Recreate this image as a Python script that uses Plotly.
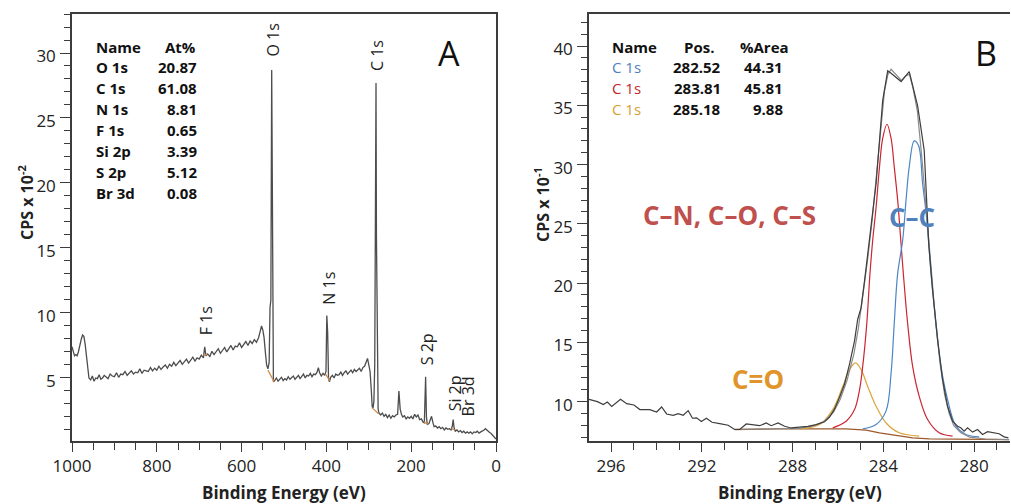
import plotly.graph_objects as go

# ---------------- Panel A : survey spectrum ----------------
survey_ev = [1000, 997, 994, 991, 988, 985, 982, 978, 975, 972,
             969, 966, 963, 960, 956, 952, 948, 944, 940, 936,
             932, 928, 924, 920, 915, 910, 905, 900, 895, 890,
             885, 880, 875, 870, 865, 860, 855, 850, 845, 840,
             835, 830, 825, 820, 815, 810, 805, 800, 795, 790,
             785, 780, 775, 770, 765, 760, 755, 750, 745, 740,
             735, 730, 725, 720, 715, 710, 705, 700, 695, 690,
             687, 684, 680, 675, 670, 665, 660, 655, 650, 645,
             640, 635, 630, 625, 620, 615, 610, 605, 600, 595,
             590, 585, 580, 575, 570, 565, 560, 556, 553, 550,
             547, 544, 541, 538, 535, 533, 531, 529, 527, 525,
             522, 518, 514, 510, 506, 502, 498, 494, 490, 486,
             482, 478, 474, 470, 466, 462, 458, 454, 450, 446,
             442, 438, 434, 430, 426, 422, 419, 416, 412, 408,
             404, 401, 399, 397, 395, 393, 390, 386, 382, 378,
             374, 370, 366, 362, 358, 354, 350, 346, 342, 338,
             334, 330, 326, 322, 318, 314, 310, 306, 303, 300,
             297, 294, 292, 290, 288, 286, 284, 283, 282, 280,
             278, 276, 272, 268, 264, 260, 256, 252, 248, 244,
             240, 236, 232, 229, 226, 223, 220, 216, 212, 208,
             204, 200, 196, 192, 188, 184, 180, 176, 172, 169,
             166, 164, 162, 158, 155, 152, 149, 146, 142, 138,
             134, 130, 126, 122, 118, 114, 110, 106, 103, 101,
             99, 96, 92, 88, 84, 80, 76, 72, 68, 64,
             60, 56, 52, 48, 44, 40, 36, 32, 28, 25,
             22, 18, 15, 12, 8, 5, 2, 0]
survey_cps = [7.4, 7.0, 6.7, 6.8, 6.7, 7.0, 7.5, 8.0, 8.3, 8.2,
              7.6, 6.6, 5.5, 5.0, 4.85, 5.15, 4.75, 5.0, 4.95, 5.25,
              4.9, 5.0, 5.2, 5.05, 4.95, 5.3, 5.15, 5.1, 5.4, 5.05,
              5.3, 5.25, 5.5, 5.2, 5.35, 5.55, 5.3, 5.45, 5.4, 5.7,
              5.35, 5.6, 5.55, 5.5, 5.8, 5.55, 5.75, 5.6, 5.9, 5.65,
              5.85, 6.0, 5.75, 6.05, 5.9, 6.2, 5.95, 6.15, 6.35, 6.05,
              6.3, 6.45, 6.15, 6.4, 6.6, 6.3, 6.55, 6.45, 6.75, 6.55,
              7.4, 6.7, 6.85, 6.65, 7.05, 6.8, 7.0, 7.25, 6.9, 7.15,
              7.35, 7.0, 7.3, 7.5, 7.15, 7.45, 7.4, 7.7, 7.35, 7.6,
              7.8, 7.5, 7.85, 7.65, 7.95, 7.75, 8.1, 8.6, 9.0, 8.7,
              8.1, 7.0, 6.0, 5.7, 6.2, 10.4, 11.0, 28.7, 12.0, 4.7,
              4.8, 5.0, 4.75, 4.9, 5.05, 4.8, 4.95, 4.85, 5.1, 4.9,
              5.0, 5.15, 4.9, 5.05, 5.2, 4.95, 5.1, 5.3, 5.0, 5.2,
              5.15, 5.35, 5.1, 5.3, 5.25, 5.45, 5.8, 5.4, 5.15, 5.35,
              5.2, 5.5, 9.8, 8.5, 5.0, 4.7, 5.05, 5.2, 5.0, 5.3,
              5.2, 5.25, 5.45, 5.2, 5.4, 5.55, 5.3, 5.5, 5.6, 5.4,
              5.65, 5.5, 5.6, 5.75, 5.5, 5.8, 5.9, 6.3, 6.5, 6.0,
              5.5, 4.0, 2.8, 2.7, 3.2, 6.0, 16.0, 27.7, 16.0, 6.0,
              2.6, 2.3, 2.15, 2.3, 2.05, 2.2, 1.95, 2.15, 1.9, 2.1,
              2.0, 2.15, 2.2, 4.0, 2.6, 2.2, 2.0, 2.1, 1.85, 2.0,
              1.9, 2.05, 1.85, 2.2, 2.0, 2.15, 1.8, 1.85, 1.6, 1.55,
              5.1, 2.0, 1.4, 1.5, 1.8, 2.05, 1.6, 1.25, 1.3, 1.15,
              1.25, 1.1, 1.2, 1.0, 1.15, 1.05, 1.1, 1.0, 1.3, 1.8,
              1.2, 0.9, 1.0, 0.85, 0.95, 0.8, 0.9, 0.75, 0.85, 0.75,
              0.85, 0.7, 0.85, 0.8, 0.9, 0.75, 0.85, 0.9, 1.0, 1.1,
              1.0, 0.85, 0.8, 0.75, 0.6, 0.5, 0.4, 0.3]

# short fitted-background segments under the survey peaks (None separates segments)
survey_bg_ev = [690, 681, None, 538, 523, None, 402, 391, None, 292, 277, None, 170, 160, None, 105, 97]
survey_bg_cps = [6.75, 6.8, None, 5.6, 4.7, None, 5.3, 4.75, None, 2.7, 2.25, None, 1.6, 1.45, None, 1.1, 1.0]

peak_names = ["O 1s", "C 1s", "N 1s", "F 1s", "S 2p", "Si 2p", "Br 3d"]
peak_label_ev = [527, 282, 393, 685, 163, 98, 67]
peak_label_cps = [31.0, 29.8, 11.9, 9.4, 7.2, 3.85, 3.55]

quant_names = ["O 1s", "C 1s", "N 1s", "F 1s", "Si 2p", "S 2p", "Br 3d"]
quant_at = ["20.87", "61.08", "8.81", "0.65", "3.39", "5.12", "0.08"]

# ---------------- Panel B : C 1s high resolution ----------------
raw_ev = [296.97, 296.6, 296.34, 296.16, 295.97, 295.58, 295.31, 294.99, 294.73, 294.29, 293.99, 293.77, 293.55,
          293.26, 293.04, 292.82, 292.6, 292.41, 292.23, 292.02, 291.8, 291.55, 291.21, 290.84, 290.55, 290.33,
          290.04, 289.6, 289.45, 289.16, 288.94, 288.64, 288.35, 288.06, 287.69, 287.33, 286.96, 286.59, 286.37,
          286.15, 285.93, 285.71, 285.49, 285.27, 285.13, 284.98, 284.83, 284.69, 284.62, 284.32, 284.03, 283.81,
          283.66, 283.22, 282.86, 282.49, 282.2, 282.0, 281.83, 281.61, 281.39, 281.17, 280.95, 280.73, 280.59,
          280.44, 280.29, 280.07, 279.85, 279.63, 279.41, 279.19, 278.9, 278.68, 278.49]
raw_cps = [10.2, 10.0, 9.75, 9.97, 9.6, 10.2, 9.83, 9.72, 9.33, 9.33, 9.13, 9.55, 8.96,
           8.85, 8.99, 8.85, 9.24, 8.6, 8.63, 8.32, 8.6, 8.26, 8.15, 8.01, 7.65, 7.65,
           8.12, 8.04, 7.97, 8.2, 7.97, 8.2, 7.92, 7.78, 7.83, 7.92, 8.06, 8.3, 8.69,
           9.39, 10.37, 11.49, 13.17, 15.13, 16.95, 17.93, 20.17, 22.41, 23.3, 28.4, 35.4, 37.9,
           37.7, 37.0, 37.84, 34.96, 31.2, 23.3, 19.4, 15.2, 11.85, 9.61, 8.35, 7.93, 7.79,
           7.51, 7.79, 7.43, 7.65, 7.23, 7.46, 7.37, 7.29, 7.03, 6.95]

env_ev = [290.55, 288.5, 287.7, 287.1, 286.6, 286.2, 285.9, 285.6, 285.3, 285.1, 284.9, 284.7, 284.5, 284.3,
          284.1, 283.95, 283.8, 283.66, 283.4, 283.2, 283.0, 282.85, 282.7, 282.5, 282.3, 282.1, 281.9, 281.7,
          281.5, 281.3, 281.1, 280.9, 280.6, 280.2, 279.5, 278.46]
env_cps = [7.65, 7.7, 7.75, 7.95, 8.35, 9.1, 10.2, 11.8, 14.0, 16.2, 18.9, 21.9, 25.2, 29.0,
           33.0, 36.2, 37.6, 38.04, 37.5, 37.1, 37.5, 37.6, 36.5, 34.5, 30.5, 25.8, 21.0, 16.8,
           13.2, 10.6, 9.0, 8.0, 7.4, 7.0, 6.85, 6.8]

red_ev = [286.23, 285.64, 285.27, 285.05, 284.91, 284.73, 284.59, 284.47, 284.32, 284.17, 284.03, 283.84,
          283.66, 283.52, 283.37, 283.22, 283.12, 282.93, 282.71, 282.42, 282.05, 281.54, 280.95]
red_cps = [7.79, 8.35, 9.33, 11.0, 12.97, 16.6, 20.8, 23.6, 26.4, 29.8, 32.2, 33.4,
           32.2, 29.8, 27.0, 23.3, 20.8, 16.6, 12.97, 10.45, 8.49, 7.37, 7.09]

blue_ev = [284.91, 284.32, 283.88, 283.66, 283.52, 283.37, 283.15, 283.0, 282.86, 282.64, 282.45, 282.27,
           282.1, 282.0, 281.9, 281.68, 281.46, 281.17, 280.8, 280.37, 279.78]
blue_cps = [7.7, 8.07, 9.22, 12.4, 16.6, 20.8, 23.6, 27.0, 29.8, 32.0, 31.6, 28.4,
            25.6, 23.3, 20.8, 16.6, 12.97, 10.17, 7.93, 7.23, 7.03]

gold_ev = [287.69, 286.81, 286.23, 285.79, 285.49, 285.23, 284.98, 284.69, 284.32, 283.88, 283.3, 282.42]
gold_cps = [7.7, 8.07, 9.33, 11.28, 12.7, 13.27, 12.7, 11.28, 9.61, 8.2, 7.37, 7.09]

bg_ev = [290.55, 288.57, 285.64, 284.76, 284.17, 283.44, 282.71, 281.98, 278.46]
bg_cps = [7.65, 7.7, 7.7, 7.59, 7.37, 7.15, 6.95, 6.86, 6.8]

comp_names = ["C 1s", "C 1s", "C 1s"]
comp_pos = ["282.52", "283.81", "285.18"]
comp_area = ["44.31", "45.81", "9.88"]

# ---------------- styling ----------------
W, H = 1011, 504
FONT = "Open Sans"
AX = "#3c3c3c"
LINE = "#4d4d4d"
BLUE, RED, GOLD = "#4a86c6", "#cc2531", "#d9a53c"
BLUE_T, RED_T, GOLD_T = "#4f81bd", "#c0272d", "#d6a032"


def fx(p):
    return p / W


def fy(p):
    return 1 - p / H


fig = go.Figure()

fig.add_trace(go.Scatter(x=survey_ev, y=survey_cps, mode="lines", line=dict(color=LINE, width=1.3),
                         xaxis="x", yaxis="y", showlegend=False))
fig.add_trace(go.Scatter(x=survey_bg_ev, y=survey_bg_cps, mode="lines", line=dict(color="#d08848", width=1.2),
                         xaxis="x", yaxis="y", showlegend=False, connectgaps=False))

fig.add_trace(go.Scatter(x=bg_ev, y=bg_cps, mode="lines", line=dict(color="#9c5a2c", width=1.3),
                         xaxis="x2", yaxis="y2", showlegend=False))
fig.add_trace(go.Scatter(x=gold_ev, y=gold_cps, mode="lines", line=dict(color=GOLD, width=1.2, shape="spline"),
                         xaxis="x2", yaxis="y2", showlegend=False))
fig.add_trace(go.Scatter(x=red_ev, y=red_cps, mode="lines", line=dict(color=RED, width=1.2, shape="spline"),
                         xaxis="x2", yaxis="y2", showlegend=False))
fig.add_trace(go.Scatter(x=blue_ev, y=blue_cps, mode="lines", line=dict(color=BLUE, width=1.2, shape="spline"),
                         xaxis="x2", yaxis="y2", showlegend=False))
fig.add_trace(go.Scatter(x=env_ev, y=env_cps, mode="lines", line=dict(color="#8a8a8a", width=1.2),
                         xaxis="x2", yaxis="y2", showlegend=False))
fig.add_trace(go.Scatter(x=raw_ev, y=raw_cps, mode="lines", line=dict(color="#3e3e3e", width=1.2),
                         xaxis="x2", yaxis="y2", showlegend=False))

tickfont = dict(family=FONT, size=17, color="#222222")
common = dict(showgrid=False, zeroline=False, showline=True, linecolor=AX, linewidth=1.5, automargin=False,
              ticks="outside", tickcolor=AX, tickwidth=1.2, tickfont=tickfont)

fig.update_layout(
    width=W, height=H, margin=dict(l=0, r=0, t=0, b=0, autoexpand=False),
    paper_bgcolor="white", plot_bgcolor="white",
    xaxis=dict(domain=[fx(72), fx(496)], range=[1000, 0], anchor="y", dtick=200, tick0=0, ticklen=9,
               mirror=True, minor=dict(dtick=50, ticklen=7, ticks="outside", tickcolor=AX), **common),
    yaxis=dict(domain=[fy(441), fy(14)], range=[0.15, 33.0], anchor="x", dtick=5, tick0=0, ticklen=10,
               mirror=True, ticklabelstandoff=1, ticklabelshift=3,
               minor=dict(dtick=1, ticklen=6, ticks="outside", tickcolor=AX), **common),
    xaxis2=dict(domain=[fx(589), fx(1010)], range=[296.97, 278.42], anchor="y2", dtick=4, tick0=0, ticklen=9,
                mirror=True, minor=dict(dtick=1, ticklen=7, ticks="outside", tickcolor=AX), **common),
    yaxis2=dict(domain=[fy(441), fy(14)], range=[6.68, 42.7], anchor="x2", dtick=5, tick0=0, ticklen=10,
                ticklabelstandoff=1, ticklabelshift=3,
                minor=dict(dtick=1, ticklen=6, ticks="outside", tickcolor=AX), **common),
)

ann = []
# peak labels in survey
for name, xe, yc in zip(peak_names, peak_label_ev, peak_label_cps):
    ann.append(dict(x=xe, y=yc, xref="x", yref="y", text=name, textangle=-90, showarrow=False,
                    font=dict(family=FONT, size=16, color="#222222"), xanchor="center", yanchor="middle"))

# survey quant table
row0, pitch = 46.5, 20.9
ann.append(dict(x=fx(94), y=fy(row0), xref="paper", yref="paper", text="<b>Name</b>", showarrow=False,
                xanchor="left", yanchor="middle", font=dict(family=FONT, size=15, color="#111111")))
ann.append(dict(x=fx(163), y=fy(row0), xref="paper", yref="paper", text="<b>At%</b>", showarrow=False,
                xanchor="left", yanchor="middle", font=dict(family=FONT, size=15, color="#111111")))
for i, (n, v) in enumerate(zip(quant_names, quant_at)):
    yy = fy(row0 + pitch * (i + 1))
    ann.append(dict(x=fx(94), y=yy, xref="paper", yref="paper", text="<b>%s</b>" % n, showarrow=False,
                    xanchor="left", yanchor="middle", font=dict(family=FONT, size=15, color="#111111")))
    ann.append(dict(x=fx(199), y=yy, xref="paper", yref="paper", text="<b>%s</b>" % v, showarrow=False,
                    xanchor="right", yanchor="middle", font=dict(family=FONT, size=15, color="#111111")))

# component table
ann.append(dict(x=fx(610), y=fy(row0), xref="paper", yref="paper", text="<b>Name</b>", showarrow=False,
                xanchor="left", yanchor="middle", font=dict(family=FONT, size=15, color="#111111")))
ann.append(dict(x=fx(699), y=fy(row0), xref="paper", yref="paper", text="<b>Pos.</b>", showarrow=False,
                xanchor="center", yanchor="middle", font=dict(family=FONT, size=15, color="#111111")))
ann.append(dict(x=fx(738), y=fy(row0), xref="paper", yref="paper", text="<b>%Area</b>", showarrow=False,
                xanchor="left", yanchor="middle", font=dict(family=FONT, size=15, color="#111111")))
for i, (n, p, a, c) in enumerate(zip(comp_names, comp_pos, comp_area, [BLUE_T, RED_T, GOLD_T])):
    yy = fy(row0 + pitch * (i + 1))
    ann.append(dict(x=fx(610), y=yy, xref="paper", yref="paper", text=n, showarrow=False,
                    xanchor="left", yanchor="middle", font=dict(family=FONT, size=15, color=c)))
    ann.append(dict(x=fx(723), y=yy, xref="paper", yref="paper", text="<b>%s</b>" % p, showarrow=False,
                    xanchor="right", yanchor="middle", font=dict(family=FONT, size=15, color="#111111")))
    ann.append(dict(x=fx(785), y=yy, xref="paper", yref="paper", text="<b>%s</b>" % a, showarrow=False,
                    xanchor="right", yanchor="middle", font=dict(family=FONT, size=15, color="#111111")))

# bond labels
ann.append(dict(x=fx(729), y=fy(215), xref="paper", yref="paper", text="<b>C\u2013N, C\u2013O, C\u2013S</b>",
                showarrow=False, xanchor="center", yanchor="middle", font=dict(family=FONT, size=26, color="#c0504d")))
ann.append(dict(x=fx(912), y=fy(217), xref="paper", yref="paper", text="<b>C\u2013C</b>",
                showarrow=False, xanchor="center", yanchor="middle", font=dict(family=FONT, size=26, color="#4f81bd")))
ann.append(dict(x=fx(758), y=fy(379), xref="paper", yref="paper", text="<b>C=O</b>",
                showarrow=False, xanchor="center", yanchor="middle", font=dict(family=FONT, size=26, color="#e0952c")))

# panel letters
ann.append(dict(x=fx(449), y=fy(53), xref="paper", yref="paper", text="A", showarrow=False,
                xanchor="center", yanchor="middle", font=dict(family=FONT, size=34, color="#111111")))
ann.append(dict(x=fx(986), y=fy(53), xref="paper", yref="paper", text="B", showarrow=False,
                xanchor="center", yanchor="middle", font=dict(family=FONT, size=34, color="#111111")))

# axis titles
for cx in (284, 800):
    ann.append(dict(x=fx(cx), y=fy(492), xref="paper", yref="paper", text="<b>Binding Energy (eV)</b>",
                    showarrow=False, xanchor="center", yanchor="middle",
                    font=dict(family=FONT, size=17, color="#222222")))
ann.append(dict(x=fx(26), y=fy(202), xref="paper", yref="paper", text="<b>CPS x 10<sup>-2</sup></b>",
                textangle=-90, showarrow=False, xanchor="center", yanchor="middle",
                font=dict(family=FONT, size=16, color="#222222")))
ann.append(dict(x=fx(542), y=fy(205), xref="paper", yref="paper", text="<b>CPS x 10<sup>-1</sup></b>",
                textangle=-90, showarrow=False, xanchor="center", yanchor="middle",
                font=dict(family=FONT, size=16, color="#222222")))

fig.update_layout(annotations=ann)
fig.write_html("out.html")
